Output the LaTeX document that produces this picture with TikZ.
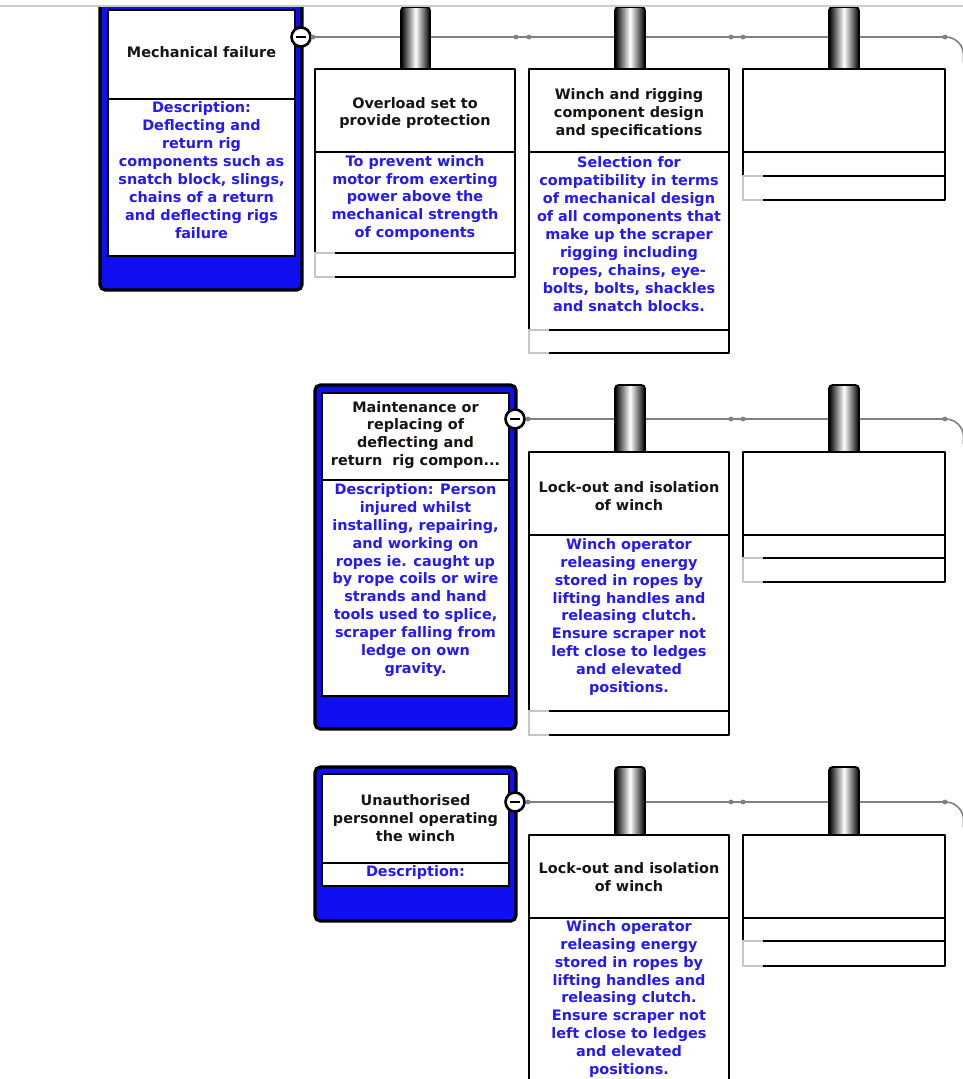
\documentclass[tikz,border=0pt]{standalone}
\usepackage{fontspec}
\setmainfont{DejaVu Sans}
\definecolor{descblue}{RGB}{35,25,250}
\definecolor{ttlblack}{RGB}{25,20,15}
\definecolor{threatblue}{RGB}{15,15,240}
\tikzset{
  threat/.style={draw=black, line width=1.8pt, rounded corners=3pt, fill=threatblue},
  innerbox/.style={draw=black, line width=1.6pt, fill=white},
  cell/.style={draw=black, line width=1.6pt, line join=round},
  footgrey/.style={draw=gray!45, line width=0.7pt},
  rope/.style={draw=black!50, line width=0.9pt},
  tab/.style={draw=black, line width=1pt, left color=black, right color=black, middle color=white},
  minus/.style={circle, draw=black, line width=1.5pt, fill=white, minimum size=0.38cm, inner sep=0pt},
  ttl/.style={font=\fontsize{8.2}{10.2}\selectfont\bfseries, text=ttlblack, align=center, inner sep=0pt},
  desc/.style={font=\fontsize{8.2}{10.2}\selectfont\bfseries, text=descblue, align=center, inner sep=0pt}
}
\begin{document}
\begin{tikzpicture}[x=0.02cm, y=-0.02cm]
\useasboundingbox (0,0) rectangle (963,1079);
\begin{scope}
\clip (0,6) rectangle (963,1079);

% Threat boxes
\draw[threat] (100,-20) rectangle (302,290);
\draw[innerbox] (108,10) rectangle (295,256);
\draw[cell] (108,99) -- (295,99);
\node[ttl] (mech) at (201.5,52) {Mechanical failure};
\node[desc] (mechdesc) at (201.5,170) {Description:\\Deflecting and\\return rig\\components such as\\snatch block, slings,\\chains of a return\\and deflecting rigs\\failure};

\draw[threat] (315,385) rectangle (516,729);
\draw[innerbox] (322,393) rectangle (509,696);
\draw[cell] (322,480) -- (509,480);
\node[ttl] (maint) at (415.5,435) {Maintenance or\\replacing of\\deflecting and\\return\ \ rig compon...};
\node[desc] (maintdesc) at (415.5,580) {Description: Person\\injured whilst\\installing, repairing,\\and working on\\ropes ie. caught up\\by rope coils or wire\\strands and hand\\tools used to splice,\\scraper falling from\\ledge on own\\gravity.};

\draw[threat] (315,767) rectangle (516,921);
\draw[innerbox] (322,774) rectangle (509,886);
\draw[cell] (322,863) -- (509,863);
\node[ttl] (unauth) at (415.5,818) {Unauthorised\\personnel operating\\the winch};
\node[desc] (unauthdesc) at (415.5,873) {Description:};

% Minus buttons and ropes
\node[minus] (m1) at (301,37) {};
\node[minus] (m2) at (515,419) {};
\node[minus] (m3) at (515,802) {};
\coordinate (r1end) at (963.5,62);
\coordinate (r2end) at (963.5,444);
\coordinate (r3end) at (963.5,827);
\draw[rope, rounded corners=0.36cm] (m1.east) -| (r1end);
\draw[rope, rounded corners=0.36cm] (m2.east) -| (r2end);
\draw[rope, rounded corners=0.36cm] (m3.east) -| (r3end);
\fill[black!50] (313,37) circle (1.4pt);
\fill[black!50] (516,37) circle (1.4pt);
\fill[black!50] (529,37) circle (1.4pt);
\fill[black!50] (731,37) circle (1.4pt);
\fill[black!50] (743,37) circle (1.4pt);
\fill[black!50] (945,37) circle (1.4pt);
\fill[black!50] (528,419) circle (1.4pt);
\fill[black!50] (731,419) circle (1.4pt);
\fill[black!50] (743,419) circle (1.4pt);
\fill[black!50] (945,419) circle (1.4pt);
\fill[black!50] (528,802) circle (1.4pt);
\fill[black!50] (731,802) circle (1.4pt);
\fill[black!50] (743,802) circle (1.4pt);
\fill[black!50] (945,802) circle (1.4pt);
\draw[line width=1.5pt] ([xshift=-0.1cm]m1.center) -- ([xshift=0.1cm]m1.center);
\draw[line width=1.5pt] ([xshift=-0.1cm]m2.center) -- ([xshift=0.1cm]m2.center);
\draw[line width=1.5pt] ([xshift=-0.1cm]m3.center) -- ([xshift=0.1cm]m3.center);

% Tabs
\path[tab] (401,69) [rounded corners=2pt] -- (401,7) -- (430,7) [sharp corners] -- (430,69) -- cycle;
\path[tab] (615,69) [rounded corners=2pt] -- (615,7) -- (645,7) [sharp corners] -- (645,69) -- cycle;
\path[tab] (829,69) [rounded corners=2pt] -- (829,7) -- (859,7) [sharp corners] -- (859,69) -- cycle;
\path[tab] (615,452) [rounded corners=2pt] -- (615,385) -- (645,385) [sharp corners] -- (645,452) -- cycle;
\path[tab] (829,452) [rounded corners=2pt] -- (829,385) -- (859,385) [sharp corners] -- (859,452) -- cycle;
\path[tab] (615,835) [rounded corners=2pt] -- (615,767) -- (645,767) [sharp corners] -- (645,835) -- cycle;
\path[tab] (829,835) [rounded corners=2pt] -- (829,767) -- (859,767) [sharp corners] -- (859,835) -- cycle;

% Barrier boxes, first row
\fill[white] (315,69) rectangle (515,277);
\draw[cell] (335,253) -- (515,253) -- (515,69) -- (315,69) -- (315,253);
\draw[cell] (315,152) -- (515,152);
\draw[footgrey] (335,253) -- (315,253) -- (315,277) -- (335,277);
\draw[cell] (335,277) -- (515,277) -- (515,253);
\node[ttl] (overload) at (415,113) {Overload set to\\provide protection};
\node[desc] (overloaddesc) at (415,198) {To prevent winch\\motor from exerting\\power above the\\mechanical strength\\of components};

\fill[white] (529,69) rectangle (729,353);
\draw[cell] (549,330) -- (729,330) -- (729,69) -- (529,69) -- (529,330);
\draw[cell] (529,152) -- (729,152);
\draw[footgrey] (549,330) -- (529,330) -- (529,353) -- (549,353);
\draw[cell] (549,353) -- (729,353) -- (729,330);
\node[ttl] (rigging) at (629,113.5) {Winch and rigging\\component design\\and specifications};
\node[desc] (riggingdesc) at (629,234) {Selection for\\compatibility in terms\\of mechanical design\\of all components that\\make up the scraper\\rigging including\\ropes, chains, eye-\\bolts, bolts, shackles\\and snatch blocks.};

\fill[white] (743,69) rectangle (945,200);
\draw[cell] (763,176) -- (945,176) -- (945,69) -- (743,69) -- (743,176);
\draw[cell] (743,152) -- (945,152);
\draw[footgrey] (763,176) -- (743,176) -- (743,200) -- (763,200);
\draw[cell] (763,200) -- (945,200) -- (945,176);

% Barrier boxes, second row
\fill[white] (529,452) rectangle (729,735);
\draw[cell] (549,711) -- (729,711) -- (729,452) -- (529,452) -- (529,711);
\draw[cell] (529,535) -- (729,535);
\draw[footgrey] (549,711) -- (529,711) -- (529,735) -- (549,735);
\draw[cell] (549,735) -- (729,735) -- (729,711);
\node[ttl] (lockout) at (629,496) {Lock-out and isolation\\of winch};
\node[desc] (lockoutdesc) at (629,617) {Winch operator\\releasing energy\\stored in ropes by\\lifting handles and\\releasing clutch.\\Ensure scraper not\\left close to ledges\\and elevated\\positions.};

\fill[white] (743,452) rectangle (945,582);
\draw[cell] (763,558) -- (945,558) -- (945,452) -- (743,452) -- (743,558);
\draw[cell] (743,535) -- (945,535);
\draw[footgrey] (763,558) -- (743,558) -- (743,582) -- (763,582);
\draw[cell] (763,582) -- (945,582) -- (945,558);

% Barrier boxes, third row
\draw[cell, fill=white] (529,835) rectangle (729,1100);
\draw[cell] (529,918) -- (729,918);
\node[ttl] (lockouttwo) at (629,877.5) {Lock-out and isolation\\of winch};
\node[desc] (lockouttwodesc) at (629,999) {Winch operator\\releasing energy\\stored in ropes by\\lifting handles and\\releasing clutch.\\Ensure scraper not\\left close to ledges\\and elevated\\positions.};

\fill[white] (743,835) rectangle (945,966);
\draw[cell] (763,941) -- (945,941) -- (945,835) -- (743,835) -- (743,941);
\draw[cell] (743,918) -- (945,918);
\draw[footgrey] (763,941) -- (743,941) -- (743,966) -- (763,966);
\draw[cell] (763,966) -- (945,966) -- (945,941);
\end{scope}

% Page edge
\draw[gray!40, line width=0.6pt] (0,6) -- (963,6);
\end{tikzpicture}
\end{document}
